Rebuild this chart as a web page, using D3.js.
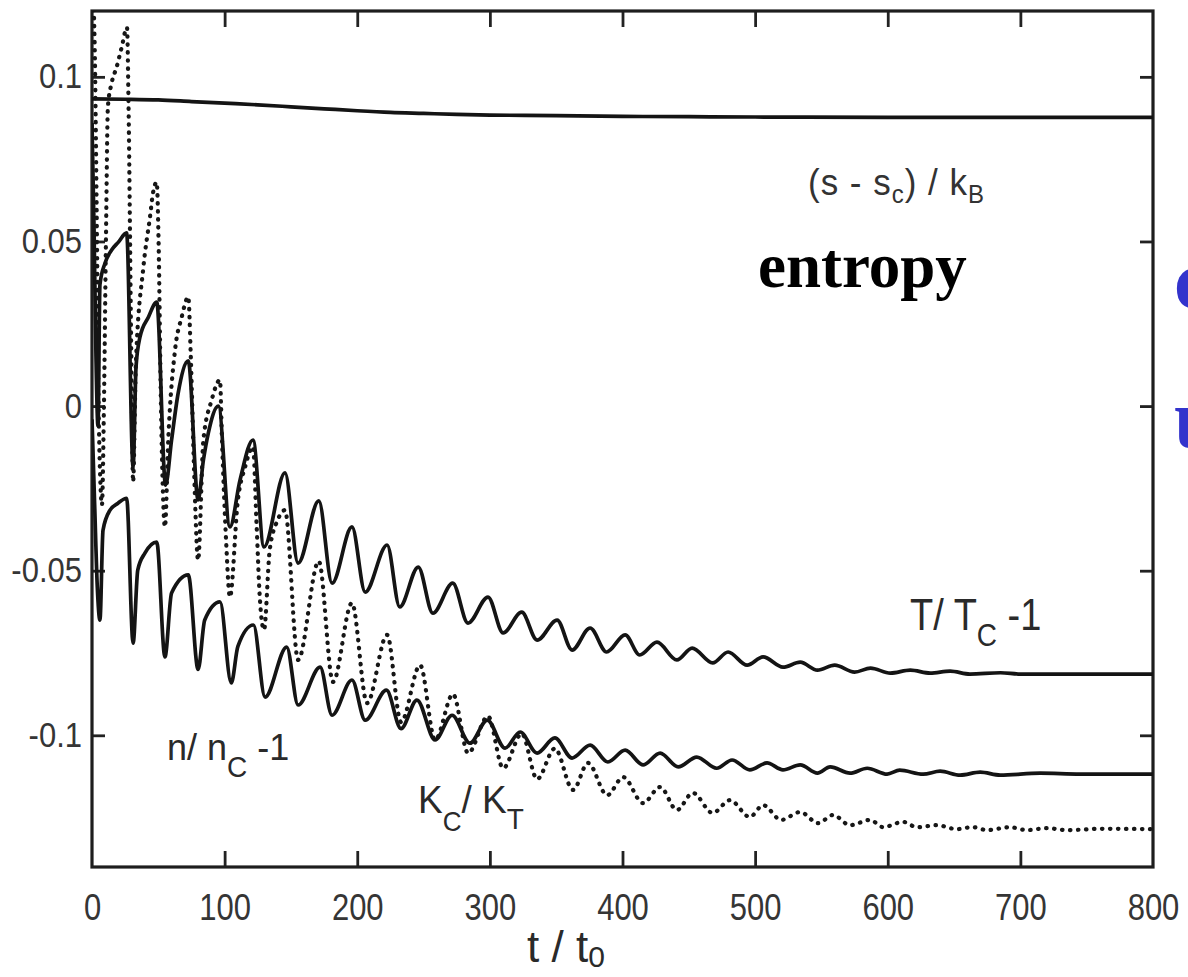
<!DOCTYPE html>
<html>
<head>
<meta charset="utf-8">
<title>relaxation</title>
<style>
body{margin:0;background:#fff}
svg{display:block}
text{font-family:"Liberation Sans",Arial,sans-serif}
</style>
</head>
<body>
<svg width="1188" height="977"></svg>
<script src="https://d3js.org/d3.v7.min.js"></script>
<script>
// axis ticks
var xTicks = [0, 100, 200, 300, 400, 500, 600, 700, 800];
var yTicks = [-0.1, -0.05, 0, 0.05, 0.1];
var yTickLabels = ["-0.1", "-0.05", "0", "0.05", "0.1"];

// (s - sc)/kB : [t/t0, value]
var entropy = [[0,0.0933],[25,0.0932],[50,0.093],[75,0.0925],[100,0.092],[125,0.0915],[150,0.0909],
  [175,0.0903],[200,0.0897],[225,0.0892],[250,0.0889],[275,0.0886],[300,0.0884],[350,0.0882],
  [400,0.088],[450,0.0879],[500,0.0878],[600,0.0877],[700,0.0877],[800,0.0877]];

// T/Tc - 1
var temperature = [[0,0.086],[1.5,0.055],[3,0.015],[4.5,-0.006],[6,0.037],[9.8,0.0434],[14.8,0.0474],
  [19.9,0.0498],[26.1,0.0526],[31,-0.0185],[33.2,0.0119],[36.2,0.021],[42.5,0.027],[48.8,0.0316],
  [55.5,-0.024],[60,-0.0103],[65,0.004],[72.6,0.0137],[80,-0.0285],[84,-0.0164],[87.7,-0.0082],
  [95.3,0.0],[104,-0.0367],[111.6,-0.0225],[121.4,-0.0103],[129.7,-0.0428],[145.5,-0.0203],
  [155.4,-0.0477],[171,-0.0288],[181,-0.0538],[196,-0.0367],[206,-0.0565],[222.5,-0.0422],
  [232,-0.061],[246,-0.0489],[257,-0.0629],[272,-0.0538],[283.5,-0.0659],[298.6,-0.058],
  [310,-0.0689],[324,-0.0626],[335.6,-0.0711],[350.7,-0.065],[362,-0.0741],[375.6,-0.0674],
  [388,-0.0747],[402,-0.0695],[413,-0.0756],[426,-0.0717],[441,-0.0771],[452.5,-0.0735],
  [468,-0.078],[479.6,-0.0747],[494,-0.0787],[506,-0.0762],[521,-0.0793],[534,-0.0778],
  [547,-0.0802],[560,-0.0787],[575,-0.0808],[587,-0.0796],[602,-0.0811],[617,-0.0802],
  [632,-0.0811],[647,-0.0805],[662,-0.0814],[685,-0.081],[700,-0.0814],[800,-0.0814]];

// n/nc - 1
var density = [[0,-0.004],[2,-0.03],[4,-0.055],[6,-0.065],[8.3,-0.0377],[13.6,-0.0316],[19.6,-0.0295],
  [26.1,-0.028],[31,-0.072],[34.5,-0.0498],[40,-0.0446],[48.8,-0.0413],[55,-0.0762],[60,-0.0568],
  [72.6,-0.0513],[80,-0.08],[85,-0.065],[96.5,-0.0595],[105,-0.0841],[110,-0.073],[121.7,-0.0665],
  [130.5,-0.0884],[146.8,-0.0732],[155.4,-0.0908],[172,-0.0793],[181,-0.0939],[196,-0.0832],
  [206,-0.0954],[222,-0.0863],[233,-0.098],[245,-0.0893],[258.7,-0.1014],[271.5,-0.0939],
  [285,-0.1024],[298,-0.0954],[311.5,-0.1039],[322.8,-0.099],[335.6,-0.1054],[349,-0.1008],
  [362,-0.1069],[375.6,-0.103],[389,-0.1081],[402,-0.1045],[415.5,-0.109],[428.4,-0.1054],
  [442,-0.1096],[456,-0.1066],[471,-0.11],[482.6,-0.1075],[496,-0.1105],[509,-0.1084],
  [521,-0.1105],[534,-0.109],[547,-0.1115],[556.6,-0.1096],[571.6,-0.1115],[584.5,-0.11],
  [599.5,-0.1118],[609,-0.1106],[626.7,-0.1118],[639.5,-0.1109],[654.6,-0.1121],[669.7,-0.1112],
  [684.8,-0.1121],[715,-0.1115],[745,-0.1118],[800,-0.1118]];

// Kc/KT (dotted)
var compress = [[0,0.13],[2,0.11],[3.5,0.06],[5,0.0],[6.5,-0.025],[7.5,-0.03],[9,0.0],[10.5,0.05],
  [12,0.091],[14.8,0.0981],[18.6,0.103],[22.4,0.109],[26.4,0.115],[27.6,0.09],[29.5,0.02],
  [31,-0.023],[33,0.012],[38.7,0.042],[43.7,0.0574],[46,0.0647],[48.8,0.068],[50.2,0.05],[52,0.0],
  [55,-0.0367],[57.5,-0.0103],[62.6,0.017],[67.6,0.027],[72.6,0.0331],[74.5,0.015],[77,-0.02],
  [80,-0.0468],[84,-0.0103],[90.2,0.0018],[96.5,0.0079],[98,-0.01],[101,-0.04],[104,-0.058],
  [110,-0.0285],[115.4,-0.0185],[121.4,-0.0124],[124,-0.035],[126.5,-0.058],[129.7,-0.068],
  [134,-0.0437],[140,-0.0346],[145.5,-0.0316],[155.4,-0.0771],[171,-0.0471],[181.7,-0.0838],
  [196,-0.0598],[207.4,-0.0902],[222.5,-0.0695],[233,-0.096],[247.4,-0.0787],[258.7,-0.1014],
  [272.2,-0.0875],[283.6,-0.1054],[298.6,-0.0942],[310,-0.11],[324,-0.0995],[335.6,-0.1133],
  [349,-0.104],[362.7,-0.1166],[374,-0.1084],[388.4,-0.1182],[400.5,-0.1127],[415.5,-0.1206],
  [428.4,-0.1157],[441,-0.1227],[453,-0.1175],[468,-0.1236],[481,-0.1197],[496,-0.1248],
  [506,-0.1212],[519.6,-0.1257],[534,-0.1233],[547.5,-0.1267],[558.8,-0.1242],[571.6,-0.1273],
  [586.7,-0.1257],[596.5,-0.1279],[611.6,-0.1263],[622,-0.1279],[637,-0.1273],[652,-0.1285],
  [664,-0.1279],[675,-0.1288],[692,-0.1279],[705,-0.1288],[720,-0.1282],[735,-0.1288],
  [760,-0.1284],[800,-0.1285]];

var plotL = 92, plotR = 1153, plotT = 11, plotB = 867;

var x = d3.scaleLinear().domain([0, 800]).range([plotL, plotR]);
var y = d3.scaleLinear().domain([-0.14, 0.12]).range([plotB, plotT]);

var svg = d3.select("svg");

svg.append("clipPath").attr("id", "plotclip")
  .append("rect").attr("x", plotL).attr("y", plotT).attr("width", plotR - plotL).attr("height", plotB - plotT);

// axes, ticks pointing inward
function styleAxis(g) {
  g.select(".domain").remove();
  g.selectAll(".tick line").attr("stroke", "#222").attr("stroke-width", 2.8);
  g.selectAll(".tick text").attr("fill", "#353535").style("font-size", "31px");
}
var inner = xTicks.slice(1, -1);

svg.append("g").attr("transform", "translate(0," + plotB + ")")
  .call(d3.axisBottom(x).tickValues(xTicks).tickSizeInner(-16).tickSizeOuter(0))
  .call(styleAxis)
  .call(function(g) {
    g.selectAll(".tick").filter(function(d) { return d === 0 || d === 800; }).select("line").remove();
    // glyphs in the original are slightly stretched vertically
    g.selectAll(".tick text").attr("y", 22).attr("transform", "scale(1,1.2)");
  });

svg.append("g").attr("transform", "translate(0," + plotT + ")")
  .call(d3.axisTop(x).tickValues(inner).tickSizeInner(-16).tickSizeOuter(0).tickFormat(""))
  .call(styleAxis);

svg.append("g").attr("transform", "translate(" + plotL + ",0)")
  .call(d3.axisLeft(y).tickValues(yTicks).tickSizeInner(-13).tickSizeOuter(0).tickPadding(10)
    .tickFormat(function(d, i) { return yTickLabels[i]; }))
  .call(styleAxis)
  .call(function(g) { g.selectAll(".tick text").attr("transform", "scale(1,1.12)"); });

svg.append("g").attr("transform", "translate(" + plotR + ",0)")
  .call(d3.axisRight(y).tickValues(yTicks).tickSizeInner(-13).tickSizeOuter(0).tickFormat(""))
  .call(styleAxis);

// frame
svg.append("rect").attr("x", plotL).attr("y", plotT).attr("width", plotR - plotL).attr("height", plotB - plotT)
  .attr("fill", "none").attr("stroke", "#1e1e1e").attr("stroke-width", 3.2);

var line = d3.line().x(function(d) { return x(d[0]); }).y(function(d) { return y(d[1]); })
  .curve(d3.curveMonotoneX);

var plot = svg.append("g").attr("clip-path", "url(#plotclip)");

plot.append("path").datum(compress).attr("d", line).attr("fill", "none")
  .attr("stroke", "#161616").attr("stroke-width", 4.2).attr("stroke-linecap", "round")
  .attr("stroke-dasharray", "0.5,7.5");

[entropy, temperature, density].forEach(function(s) {
  plot.append("path").datum(s).attr("d", line).attr("fill", "none")
    .attr("stroke", "#141414").attr("stroke-width", 3.7).attr("stroke-linejoin", "round");
});

// curve labels
function label(xp, yp, size, parts, sy) {
  var t = svg.append("text").attr("fill", "#2a2a2a").style("font-size", size + "px")
    .attr("transform", "translate(" + xp + "," + yp + ") scale(1," + (sy || 1) + ")");
  parts.forEach(function(p) {
    var s = t.append("tspan").text(p[0]);
    if (p[1]) s.attr("dy", p[1]);
    if (p[2]) s.style("font-size", p[2] + "px");
  });
  return t;
}
label(808, 195, 35, [["(s - s"], ["c", 8, 24], [") / k", -8], ["B", 8, 24]], 1.05)
  .attr("fill", "#333").style("letter-spacing", "1px");
label(910, 630, 38, [["T/ T"], ["C", 14, 28], [" -1", -14]], 1.15);
label(167, 760, 36, [["n/ n"], ["C", 16, 28], [" -1", -16]], 1.05);
label(418, 813, 37, [["K"], ["C", 17, 26], ["/ K", -17], ["T", 15, 28]], 1.05);
label(527, 962, 44, [["t / t"], ["0", 5, 30]]);

svg.append("text").attr("x", 758).attr("y", 287).attr("fill", "#000")
  .style("font-family", "'Liberation Serif','Times New Roman',serif").style("font-weight", "bold")
  .style("font-size", "63px").text("entropy");

svg.append("text").attr("x", 1174).attr("y", 308).attr("fill", "#3333cc")
  .style("font-family", "'Liberation Serif','Times New Roman',serif").style("font-weight", "bold")
  .style("font-size", "84px").text("c");
svg.append("text").attr("x", 1174).attr("y", 447).attr("fill", "#3333cc")
  .style("font-family", "'Liberation Serif','Times New Roman',serif").style("font-weight", "bold")
  .style("font-size", "84px").text("u");
</script>
</body>
</html>
